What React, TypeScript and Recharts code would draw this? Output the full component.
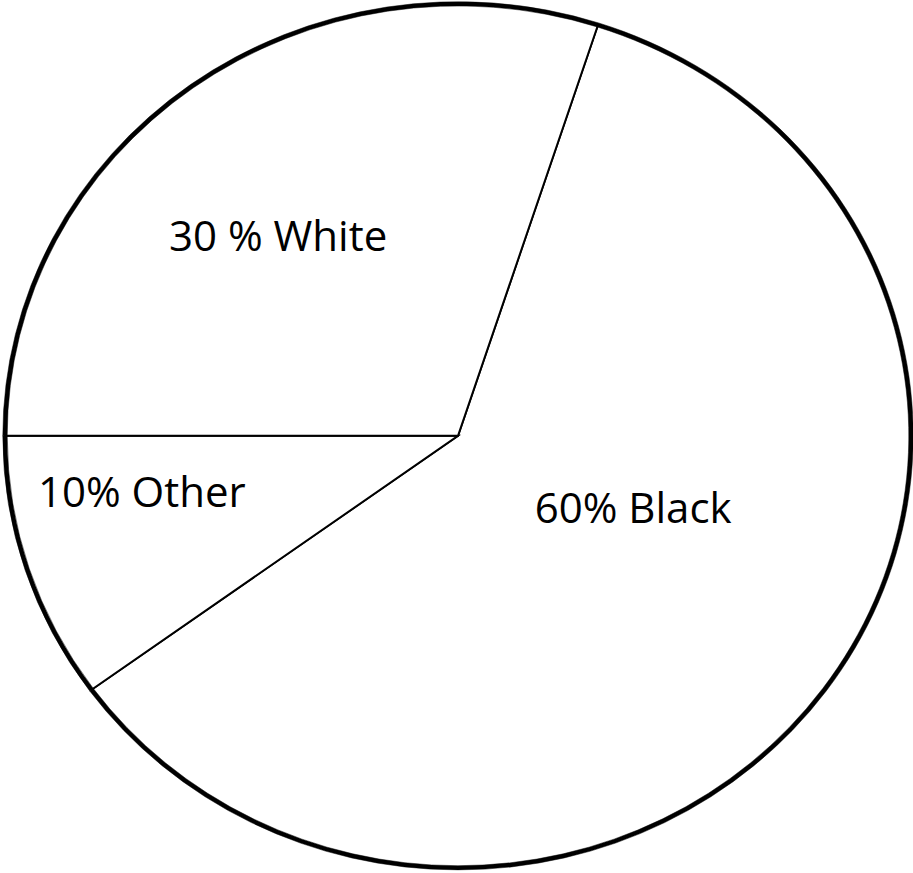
import { PieChart, Pie, Cell } from 'recharts';

// Population share by group
const CATEGORIES = ['Black', 'Other', 'White'];
const SHARES = [60, 10, 30];
const LABELS = ['60% Black', '10% Other', '30 % White'];

const pieData = CATEGORIES.map((name, i) => ({ name, value: SHARES[i], label: LABELS[i] }));

// the drawing is a slightly flattened circle
const SQUASH = 432 / 453;
const CX = 458;
const CY = 457;
const R = 453;
const START = 72;

// where each label sits: fraction of the radius and a turn away from the slice middle
const LABEL_SPOT: Record<string, { r: number; turn: number }> = {
  Black: { r: 0.421, turn: 12.7 },
  Other: { r: 0.71, turn: -7.4 },
  White: { r: 0.609, turn: 4.7 },
};

const FONT = 42;
const RAD = Math.PI / 180;

function SliceLabel(props: any) {
  const { cx, cy, midAngle, outerRadius, payload, name } = props;
  const key = payload?.name ?? name;
  const spot = LABEL_SPOT[key];
  const angle = midAngle + spot.turn;
  const r = outerRadius * spot.r;
  const x = cx + r * Math.cos(-angle * RAD);
  const y = cy + r * Math.sin(-angle * RAD);
  return (
    <text
      transform={`translate(${x} ${y}) scale(1 ${1 / SQUASH})`}
      x={0}
      y={FONT * 0.357}
      textAnchor="middle"
      fill="#000"
      fontSize={FONT}
      fontFamily="'Open Sans', sans-serif"
    >
      {payload?.label ?? props.label}
    </text>
  );
}

export default function App() {
  return (
    <div
      style={{
        position: 'absolute',
        left: 0,
        top: 0,
        width: 913,
        height: 873,
        overflow: 'hidden',
        background: '#fff',
      }}
    >
      <div style={{ transform: `scaleY(${SQUASH})`, transformOrigin: 'top left' }}>
        <PieChart width={913} height={913} margin={{ top: 0, right: 0, bottom: 0, left: 0 }}>
          <Pie
            data={pieData}
            dataKey="value"
            nameKey="name"
            cx={CX}
            cy={CY}
            outerRadius={R}
            startAngle={START}
            endAngle={START - 360}
            stroke="#000"
            strokeWidth={2}
            labelLine={false}
            label={SliceLabel}
            isAnimationActive={false}
          >
            {pieData.map((d) => (
              <Cell key={d.name} fill="#fff" />
            ))}
          </Pie>
          {/* heavier rim drawn as thin black bands over each slice */}
          <Pie
            data={pieData}
            dataKey="value"
            nameKey="name"
            cx={CX}
            cy={CY}
            innerRadius={R - 2.2}
            outerRadius={R + 2.2}
            startAngle={START}
            endAngle={START - 360}
            stroke="#000"
            strokeWidth={0.5}
            labelLine={false}
            label={false}
            isAnimationActive={false}
          >
            {pieData.map((d) => (
              <Cell key={d.name} fill="#000" />
            ))}
          </Pie>
        </PieChart>
      </div>
    </div>
  );
}
